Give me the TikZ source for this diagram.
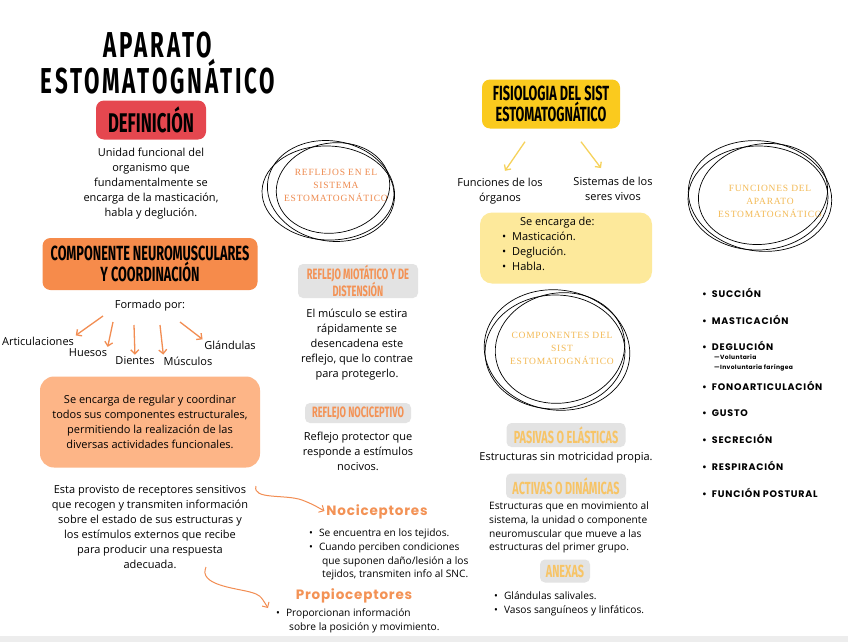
\documentclass[tikz,border=0pt]{standalone}
\usepackage{fontspec}
\setmainfont{Open Sans}
\newfontfamily\headfont[FakeStretch=0.62]{Fira Sans}
\newfontfamily\titlefont[FakeStretch=0.62,LetterSpace=8]{Fira Sans}
\newfontfamily\circfont[LetterSpace=8]{Liberation Serif}
\newfontfamily\popfont[LetterSpace=6]{Poppins}
\newfontfamily\listfont[LetterSpace=8]{Poppins}
\usetikzlibrary{positioning,arrows.meta}

\definecolor{defred}{HTML}{E5474F}
\definecolor{neuroorange}{HTML}{F68B4B}
\definecolor{lightorange}{HTML}{FDB587}
\definecolor{fisioyellow}{HTML}{FACA1E}
\definecolor{lightyellow}{HTML}{FDE99B}
\definecolor{boxgray}{HTML}{E3E3E3}
\definecolor{accorange}{HTML}{F39255}
\definecolor{accyellow}{HTML}{F7C466}
\definecolor{circorange}{HTML}{EE8A4E}
\definecolor{circyellow}{HTML}{F3BA55}
\definecolor{arrorange}{HTML}{F28D52}
\definecolor{arryellow}{HTML}{F6D25B}

\begin{document}
\begin{tikzpicture}[x=1pt,y=-1pt,
        txt/.style={font=\fontsize{11}{15}\selectfont,align=center,inner sep=0pt},
        smalltxt/.style={font=\fontsize{10.2}{13.7}\selectfont,align=left,inner sep=0pt},
        head/.style={rounded corners=8pt,align=center,inner sep=0pt,font=\headfont\bfseries\fontsize{20.5}{19.5}\selectfont},
        tag/.style={fill=boxgray,rounded corners=5pt,align=center,inner sep=0pt,font=\headfont\bfseries\fontsize{15}{17}\selectfont},
        bigtag/.style={tag,text=accyellow,font=\headfont\bfseries\fontsize{17.5}{18}\selectfont},
        circtext/.style={font=\circfont\fontsize{9.5}{13}\selectfont,align=center,inner sep=0pt},
        scribble/.style={black,line width=0.7pt},
        oarrow/.style={-{Straight Barb[length=4pt,width=8pt]},arrorange,line width=1.3pt,shorten >=2pt},
        yarrow/.style={-{Straight Barb[length=4pt,width=8pt]},arryellow,line width=1.3pt},
        func/.style={font=\listfont\bfseries\fontsize{9.5}{10}\selectfont,anchor=west,inner sep=0pt},
    ]
    \useasboundingbox (0,0) rectangle (848,642);
    \fill[white] (0,0) rectangle (848,642);
    \fill[black!7] (0,636) rectangle (848,642);

    % left column
    \node[font=\titlefont\bfseries\fontsize{36}{30}\selectfont,align=center] (title) at (158,63) {APARATO\\ESTOMATOGNÁTICO};
    \node[head,fill=defred,minimum width=110,minimum height=39,font=\headfont\bfseries\fontsize{27}{28}\selectfont] (defin) at (151,120) {DEFINICIÓN};
    \node[txt] (deftext) at (151,184) {Unidad funcional del\\organismo que\\fundamentalmente se\\encarga de la masticación,\\habla y deglución.};

    \node[head,fill=neuroorange,minimum width=215,minimum height=52] (neuro) at (150,264) {COMPONENTE NEUROMUSCULARES\\Y COORDINACIÓN};
    \node[txt] (formado) at (150,306) {Formado por:};
    \node[txt] (art) at (38,341) {Articulaciones};
    \node[txt] (hue) at (88,353) {Huesos};
    \node[txt] (die) at (135,361) {Dientes};
    \node[txt] (mus) at (188,361) {Músculos};
    \node[txt] (gla) at (230,345) {Glándulas};
    \coordinate (a1) at (103,316);
    \coordinate (a2) at (113,322);
    \coordinate (a3) at (134,325);
    \coordinate (a4) at (160,325);
    \coordinate (a5) at (180,322);
    \draw[oarrow] (a1) -- (art.north east);
    \draw[oarrow] (a2) -- (hue.north east);
    \draw[oarrow] (a3) -- (die.north);
    \draw[oarrow] (a4) -- (mus.north west);
    \draw[oarrow] (a5) -- (gla.north west);

    \node[txt,fill=lightorange,rounded corners=14pt,minimum width=220,minimum height=91] (regula) at (150,422) {Se encarga de regular y coordinar\\todos sus componentes estructurales,\\permitiendo la realización de las\\diversas actividades funcionales.};
    \node[txt] (provisto) at (150,527) {Esta provisto de receptores sensitivos\\que recogen y transmiten información\\sobre el estado de sus estructuras y\\los estímulos externos que recibe\\para producir una respuesta\\adecuada.};

    \node[font=\popfont\bfseries\fontsize{13.5}{14}\selectfont,text=accorange,inner sep=0pt] (noci) at (377,512) {Nociceptores};
    \node[smalltxt,anchor=west] (nocilist) at (309,554.5) {\textbullet\hspace{6pt}Se encuentra en los tejidos.\\\textbullet\hspace{6pt}Cuando perciben condiciones\\\hspace*{13pt}que suponen daño/lesión a los\\\hspace*{13pt}tejidos, transmiten info al SNC.};
    \node[font=\popfont\bfseries\fontsize{13.5}{14}\selectfont,text=accorange,inner sep=0pt] (propi) at (354,596) {Propioceptores};
    \node[smalltxt,anchor=west] (propilist) at (276,621) {\textbullet\hspace{6pt}Proporcionan información\\\hspace*{13pt}sobre la posición y movimiento.};

    \coordinate (c1) at (256,486);
    \coordinate (c2) at (206,567);
    \coordinate (tip2) at (268,608);
    \draw[oarrow,line width=1pt] (c1) .. controls (252,500) and (285,494) .. (302,500) .. controls (312,504) .. (noci.west);
    \draw[oarrow,line width=1pt,shorten >=0pt] (c2) .. controls (198,585) and (235,588) .. (250,592) .. controls (260,595) .. (tip2);

    % middle column
    \node[circtext,text=circorange] (reflejos) at (336,185) {REFLEJOS EN EL\\SISTEMA\\ESTOMATOGNÁTICO};
    \draw[scribble] ([xshift=-5pt,yshift=-6pt]reflejos.center) ellipse [x radius=64, y radius=50, rotate=-10];
    \draw[scribble] ([xshift=-3pt,yshift=-3pt]reflejos.center) ellipse [x radius=57, y radius=45, rotate=9];
    \draw[scribble] ([xshift=-8pt,yshift=-8pt]reflejos.center) ellipse [x radius=66, y radius=47, rotate=-2];

    \node[tag,text=accorange,minimum width=120,minimum height=34] (miot) at (358,281) {REFLEJO MIOTÁTICO Y DE\\DISTENSIÓN};
    \node[txt] (miottext) at (357,345) {El músculo se estira\\rápidamente se\\desencadena este\\reflejo, que lo contrae\\para protegerlo.};
    \node[tag,text=accorange,minimum width=106,minimum height=20] (nocitag) at (358,413) {REFLEJO NOCICEPTIVO};
    \node[txt] (nocitext) at (358,451) {Reflejo protector que\\responde a estímulos\\nocivos.};

    % right middle column
    \node[head,fill=fisioyellow,minimum width=138,minimum height=49] (fisio) at (551,104) {FISIOLOGIA DEL SIST\\ESTOMATOGNÁTICO};
    \node[txt] (funcorg) at (500,191) {Funciones de los\\órganos};
    \node[txt] (sistemas) at (613,189) {Sistemas de los\\seres vivos};
    \draw[yarrow] ([xshift=-26pt,yshift=-13pt]fisio.south) -- ([xshift=5pt,yshift=7pt]funcorg.north);
    \draw[yarrow] ([xshift=30pt,yshift=-13pt]fisio.south) -- ([xshift=-12pt,yshift=9pt]sistemas.north);

    \node[fill=lightyellow,rounded corners=12pt,minimum width=172,minimum height=71,inner sep=0pt] (encarga) at (566,248) {};
    \node[txt,align=left,anchor=north west] (encargalist) at ([xshift=22pt,yshift=-5pt]encarga.north west) {\hspace*{18pt}Se encarga de:\\\textbullet\hspace{6pt}Masticación.\\\textbullet\hspace{6pt}Deglución.\\\textbullet\hspace{6pt}Habla.};

    \node[circtext,text=circyellow] (componentes) at (562,348) {COMPONENTES DEL\\SIST\\ESTOMATOGNÁTICO};
    \draw[scribble] ([xshift=-5pt,yshift=-2pt]componentes.center) ellipse [x radius=73, y radius=60, rotate=-8];
    \draw[scribble] ([xshift=-2pt,yshift=0pt]componentes.center) ellipse [x radius=65, y radius=55, rotate=10];
    \draw[scribble] ([xshift=-7pt,yshift=-4pt]componentes.center) ellipse [x radius=70, y radius=57, rotate=1];

    \node[bigtag,minimum width=119,minimum height=24] (pasivas) at (566,435) {PASIVAS O ELÁSTICAS};
    \node[txt] (pasivastext) at (566,458) {Estructuras sin motricidad propia.};
    \node[bigtag,minimum width=120,minimum height=25] (activas) at (566,486) {ACTIVAS O DINÁMICAS};
    \node[smalltxt,anchor=west] (activastext) at (489,527.5) {Estructuras que en movimiento al\\sistema, la unidad o componente\\neuromuscular que mueve a las\\estructuras del primer grupo.};
    \node[bigtag,minimum width=50,minimum height=23] (anexas) at (565,571) {ANEXAS};
    \node[smalltxt,anchor=west] (anexaslist) at (494,604) {\textbullet\hspace{6pt}Glándulas salivales.\\\textbullet\hspace{6pt}Vasos sanguíneos y linfáticos.};

    % right column
    \node[circtext,text=circyellow] (funciones) at (770,201) {FUNCIONES DEL\\APARATO\\ESTOMATOGNÁTICO};
    \draw[scribble] ([xshift=-10pt,yshift=5pt]funciones.center) ellipse [x radius=72, y radius=55, rotate=-8];
    \draw[scribble] ([xshift=-7pt,yshift=7pt]funciones.center) ellipse [x radius=65, y radius=50, rotate=10];
    \draw[scribble] ([xshift=-12pt,yshift=3pt]funciones.center) ellipse [x radius=70, y radius=52, rotate=1];

    \node[func] (succion) at (702,293) {\textbullet\hspace{5pt}SUCCIÓN};
    \node[func] (mastic) at (702,320) {\textbullet\hspace{5pt}MASTICACIÓN};
    \node[func] (deglu) at (702,346) {\textbullet\hspace{5pt}DEGLUCIÓN};
    \node[func,font=\popfont\bfseries\fontsize{6}{10}\selectfont,align=left] (deglusub) at (714,363) {—Voluntaria\\—Involuntaria faríngea};
    \node[func] (fono) at (702,386) {\textbullet\hspace{5pt}FONOARTICULACIÓN};
    \node[func] (gusto) at (702,413) {\textbullet\hspace{5pt}GUSTO};
    \node[func] (secre) at (702,439) {\textbullet\hspace{5pt}SECRECIÓN};
    \node[func] (respi) at (702,466) {\textbullet\hspace{5pt}RESPIRACIÓN};
    \node[func] (postu) at (702,493) {\textbullet\hspace{5pt}FUNCIÓN POSTURAL};
\end{tikzpicture}
\end{document}
